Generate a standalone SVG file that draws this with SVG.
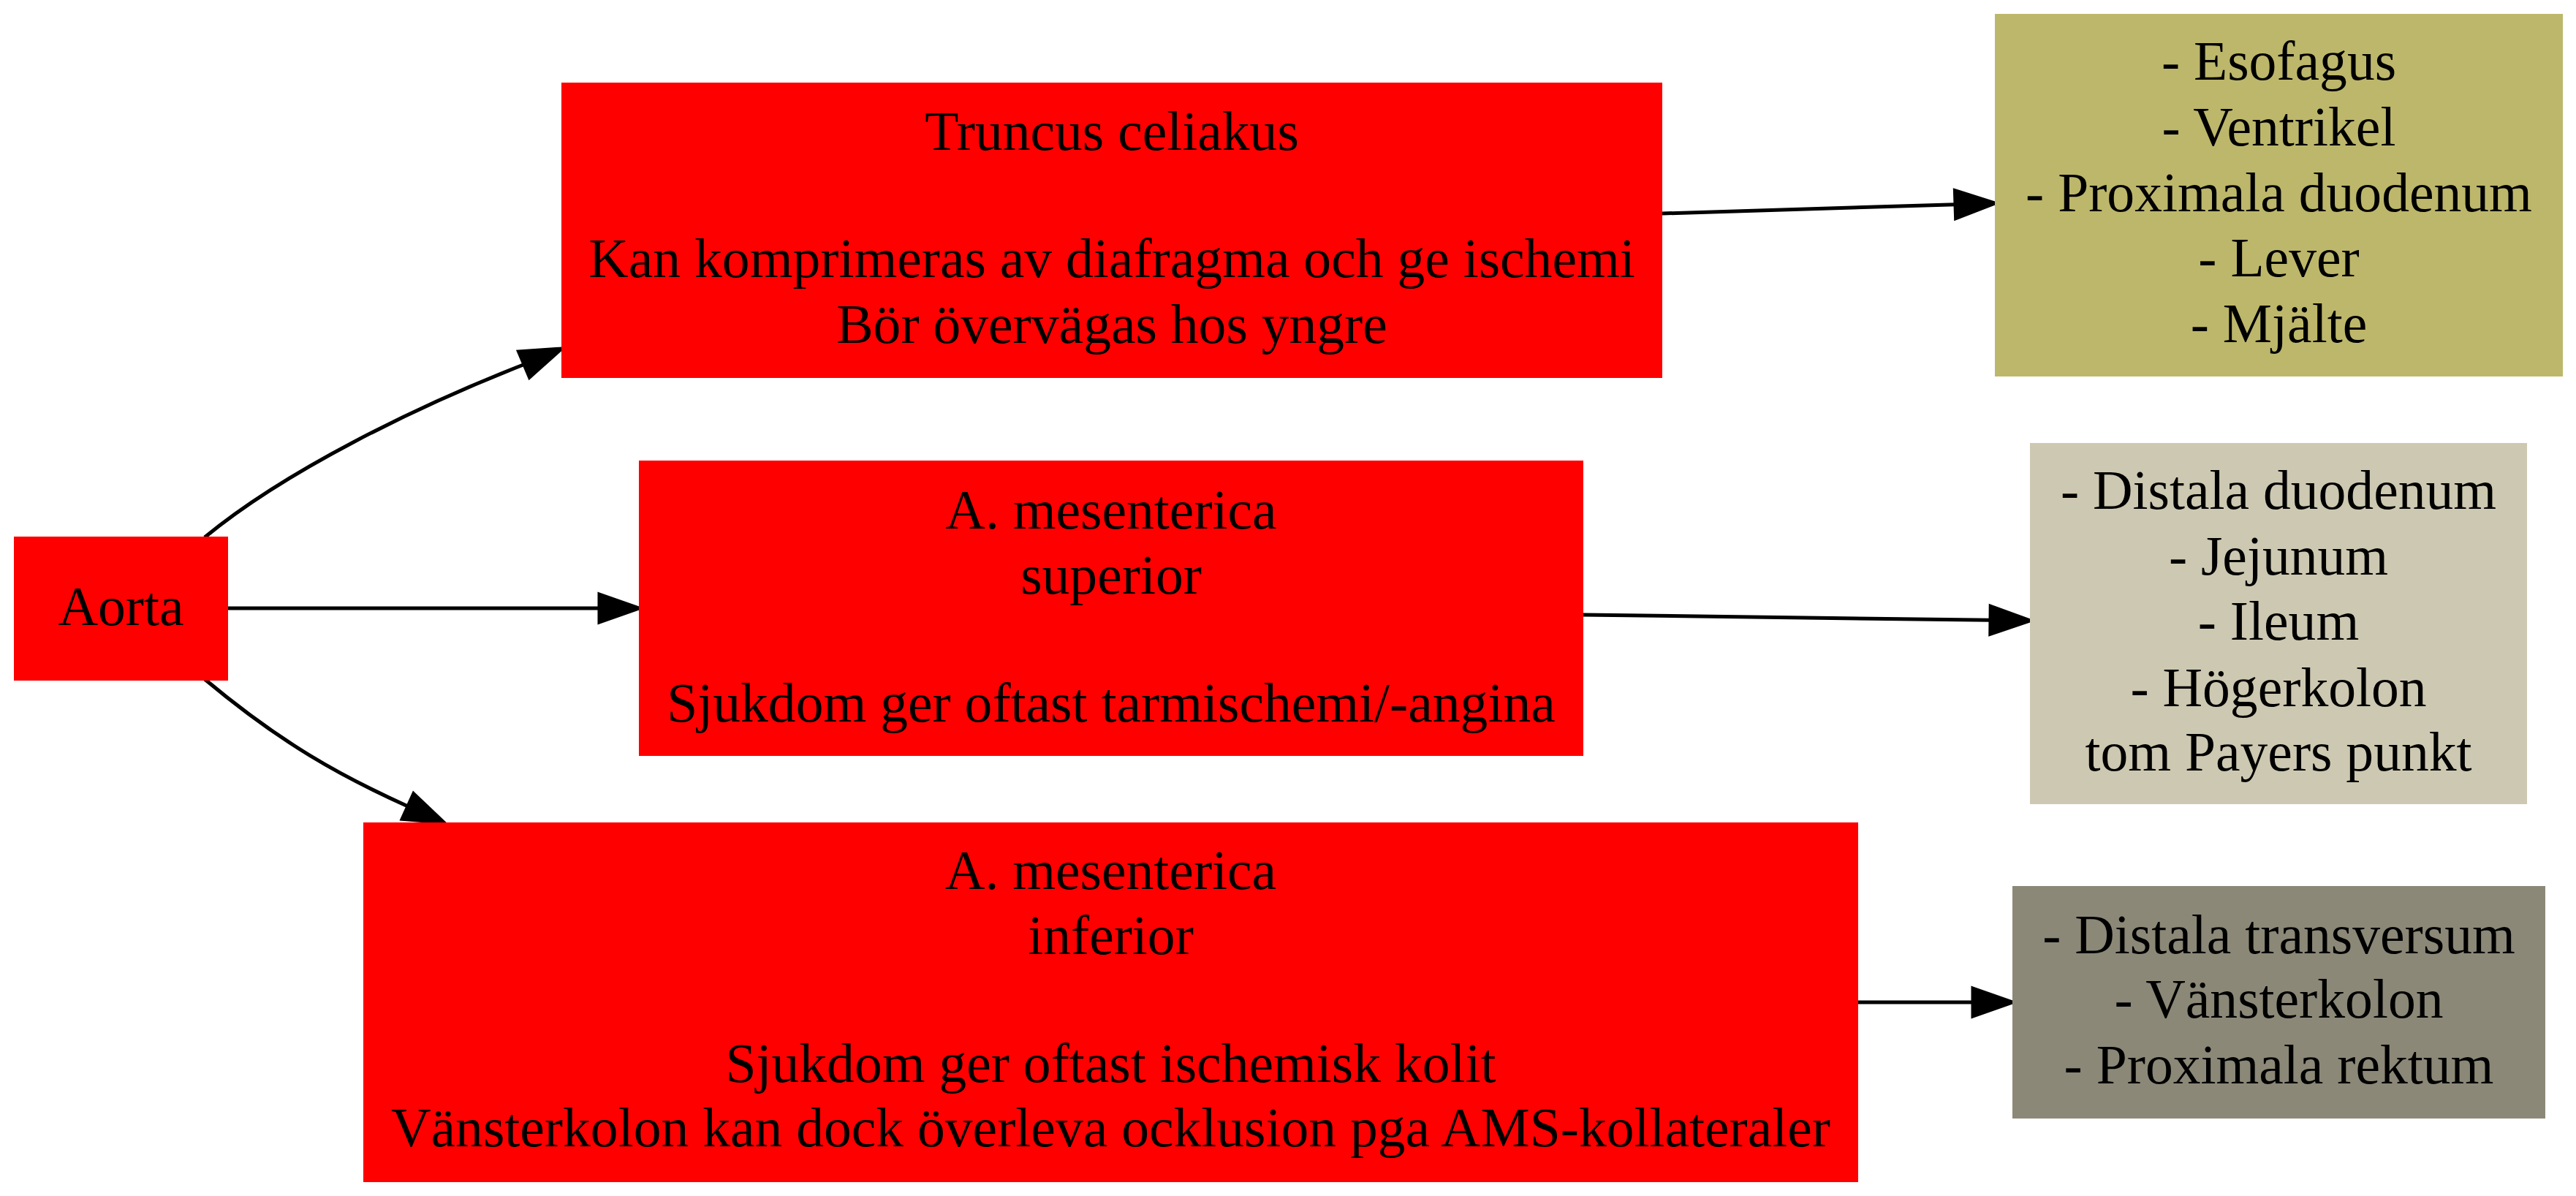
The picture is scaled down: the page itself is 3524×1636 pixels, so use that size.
<svg xmlns="http://www.w3.org/2000/svg" width="3524" height="1636" viewBox="0 0 3524 1636">
<style>
text{font-family:"Liberation Serif","Times New Roman",serif;font-size:75.6px;text-anchor:middle;fill:#000}
.edge{fill:none;stroke:#000;stroke-width:5}
.head{fill:#000;stroke:#000;stroke-width:5}
</style>
<rect x="0" y="0" width="3524" height="1636" fill="#fff"/>
<g id="connectors">
<path class="edge" d="M280,735 C390,644 570,556 717,498.5"/>
<polygon class="head" points="709.6,481 768,477 724.4,516"/>
<path class="edge" d="M312,832 L820,832"/>
<polygon class="head" points="820,813 874,832 820,851"/>
<path class="edge" d="M280,929 C385,1017 467,1062 558,1103"/>
<polygon class="head" points="565.8,1085.7 607,1125 550.2,1120.3"/>
<path class="edge" d="M2274,292 L2675,279.7"/>
<polygon class="head" points="2674.4,260.7 2729,278 2675.6,298.7"/>
<path class="edge" d="M2166,841 L2723,848.3"/>
<polygon class="head" points="2723.2,829.3 2777,849 2722.8,867.3"/>
<path class="edge" d="M2542,1371 L2699,1371"/>
<polygon class="head" points="2699,1352 2753,1371 2699,1390"/>
</g>
<g id="aorta">
<rect x="19" y="734" width="293" height="197" fill="#ff0000"/>
<text x="165.5" y="855">Aorta</text>
</g>
<g id="truncus">
<rect x="768" y="113" width="1506" height="404" fill="#ff0000"/>
<text x="1521" y="205">Truncus celiakus</text>
<text x="1521" y="379">Kan komprimeras av diafragma och ge ischemi</text>
<text x="1521" y="469">Bör övervägas hos yngre</text>
</g>
<g id="sma">
<rect x="874" y="630" width="1292" height="404" fill="#ff0000"/>
<text x="1520" y="723">A. mesenterica</text>
<text x="1520" y="812">superior</text>
<text x="1520" y="987">Sjukdom ger oftast tarmischemi/-angina</text>
</g>
<g id="ima">
<rect x="497" y="1125" width="2045" height="492" fill="#ff0000"/>
<text x="1519.5" y="1216">A. mesenterica</text>
<text x="1519.5" y="1305">inferior</text>
<text x="1519.5" y="1480">Sjukdom ger oftast ischemisk kolit</text>
<text x="1519.5" y="1568">Vänsterkolon kan dock överleva ocklusion pga AMS-kollateraler</text>
</g>
<g id="celiac-organs">
<rect x="2729" y="19" width="777" height="496" fill="#bdb76b"/>
<text x="3117.5" y="109">- Esofagus</text>
<text x="3117.5" y="199">- Ventrikel</text>
<text x="3117.5" y="289">- Proximala duodenum</text>
<text x="3117.5" y="378">- Lever</text>
<text x="3117.5" y="468">- Mjälte</text>
</g>
<g id="sma-organs">
<rect x="2777" y="606" width="680" height="494" fill="#cdc8b1"/>
<text x="3117" y="696">- Distala duodenum</text>
<text x="3117" y="786">- Jejunum</text>
<text x="3117" y="875">- Ileum</text>
<text x="3117" y="966">- Högerkolon</text>
<text x="3117" y="1054">tom Payers punkt</text>
</g>
<g id="ima-organs">
<rect x="2753" y="1212" width="729" height="318" fill="#8b8878"/>
<text x="3117.5" y="1304">- Distala transversum</text>
<text x="3117.5" y="1392">- Vänsterkolon</text>
<text x="3117.5" y="1482">- Proximala rektum</text>
</g>
</svg>
